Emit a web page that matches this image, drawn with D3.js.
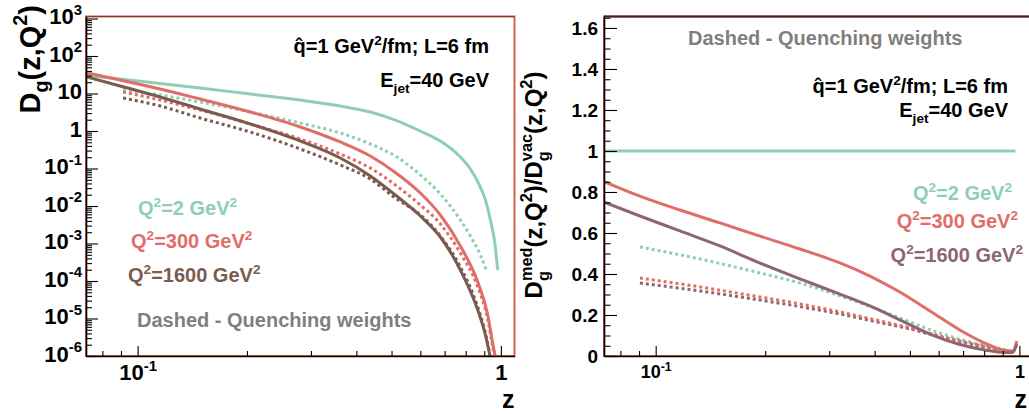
<!DOCTYPE html>
<html>
<head>
<meta charset="utf-8">
<script src="https://cdnjs.cloudflare.com/ajax/libs/d3/7.8.5/d3.min.js"></script>
<style>
  body { margin: 0; background: #fff; }
  svg { display: block; font-family: "Liberation Sans", Arial, Helvetica, sans-serif; font-weight: bold; }
</style>
</head>
<body>
<div id="chart"></div>
<script>

// ---- data ----
// left panel: D_g(z,Q^2), [z, value]; solid = medium evolution, dotted = quenching weights
var q2Solid = [[0.0721,30.2],[0.0895,24.4],[0.1153,18.5],[0.1486,14.0],[0.2041,9.7],[0.2804,6.71],[0.3613,4.64],[0.437,3.21],[0.5121,1.96],[0.6001,1.0],[0.6813,0.541],[0.726,0.352],[0.7734,0.203],[0.824,0.097],[0.867,0.041],[0.9065,0.0145],[0.9356,0.00424],[0.9596,0.00124],[0.98,0.000196]];
var q2Dotted = [[0.0912,12.8],[0.1153,9.12],[0.1486,5.93],[0.2041,3.21],[0.2804,1.63],[0.3613,0.885],[0.437,0.45],[0.5121,0.215],[0.6001,0.0671],[0.6813,0.0209],[0.7734,0.00424],[0.824,0.00158],[0.878,0.000493],[0.912,0.000196]];
var q300Solid = [[0.0721,35.9],[0.0895,22.9],[0.1153,13.2],[0.1486,7.13],[0.2041,3.21],[0.2804,1.28],[0.3613,0.509],[0.437,0.215],[0.5121,0.0782],[0.6001,0.0222],[0.6813,0.00575],[0.7734,0.000857],[0.8615,0.0001],[0.9181,0.0000136],[0.9535,0.00000174],[0.9719,0.00000069]];
var q300Dotted = [[0.0912,11.0],[0.1153,6.71],[0.1486,3.63],[0.2041,1.54],[0.2804,0.612],[0.3613,0.244],[0.437,0.103],[0.5121,0.0363],[0.6001,0.0106],[0.6813,0.00331],[0.7734,0.000558],[0.8615,0.0000736],[0.9181,0.0000103],[0.9535,0.00000136],[0.9656,0.00000069]];
var q1600Solid = [[0.0721,28.1],[0.0895,15.8],[0.1153,8.07],[0.1486,3.86],[0.2041,1.54],[0.2804,0.541],[0.3613,0.19],[0.437,0.0631],[0.5121,0.0196],[0.6001,0.0054],[0.6813,0.00149],[0.7734,0.000196],[0.8615,0.0000179],[0.9065,0.00000363],[0.9356,0.00000088]];
var q1600Dotted = [[0.0912,7.59],[0.1153,4.64],[0.1486,2.22],[0.2041,0.94],[0.2804,0.331],[0.3613,0.124],[0.437,0.0525],[0.5121,0.0163],[0.6001,0.0058],[0.6813,0.00158],[0.7734,0.000236],[0.8615,0.0000215],[0.9065,0.0000041],[0.9356,0.00000088]];

// right panel: D_med / D_vac, [z, ratio]
var r2Solid = [[0.0721,1.0],[0.975,1.0]];
var r2Dotted = [[0.0905,0.532],[0.1324,0.473],[0.1935,0.405],[0.2493,0.356],[0.3211,0.293],[0.4136,0.224],[0.5002,0.166],[0.6047,0.112],[0.7311,0.068],[0.8839,0.037],[0.9298,0.029]];
var r300Solid = [[0.0721,0.851],[0.0905,0.78],[0.1166,0.712],[0.1502,0.649],[0.1935,0.585],[0.2493,0.522],[0.3211,0.454],[0.3882,0.39],[0.4692,0.312],[0.5675,0.22],[0.686,0.127],[0.8034,0.063],[0.912,0.0268],[0.9592,0.0244],[0.9836,0.073]];
var r300Dotted = [[0.0905,0.38],[0.1324,0.337],[0.1935,0.288],[0.2493,0.254],[0.3211,0.215],[0.4136,0.171],[0.5002,0.137],[0.6047,0.098],[0.7311,0.063],[0.8839,0.032],[0.9298,0.024]];
var r1600Solid = [[0.0721,0.751],[0.0905,0.683],[0.1166,0.61],[0.1502,0.537],[0.19,0.459],[0.2493,0.376],[0.3211,0.302],[0.3882,0.244],[0.4692,0.176],[0.5675,0.107],[0.686,0.056],[0.8034,0.029],[0.912,0.017],[0.9592,0.017],[0.9836,0.0585]];
var r1600Dotted = [[0.0905,0.356],[0.1324,0.317],[0.1935,0.273],[0.2493,0.241],[0.3211,0.205],[0.4136,0.163],[0.5002,0.132],[0.6047,0.093],[0.7311,0.059],[0.8839,0.029],[0.9298,0.022]];

// tick values
var xMajor = [0.1, 1];
var xMinor = [0.08, 0.09, 0.2, 0.3, 0.4, 0.5, 0.6, 0.7, 0.8, 0.9];
var yLogMajor = [1e-6, 1e-5, 1e-4, 1e-3, 1e-2, 1e-1, 1, 10, 100, 1000];
var yLinMajor = [0, 0.2, 0.4, 0.6, 0.8, 1, 1.2, 1.4, 1.6];

// colours
var green = "#8ecfb4";
var red = "#e06e68";
var brownL = "#7b5b4f";
var brownR = "#8d6672";
var grey = "#7f7f7f";
var frameRed = "#d2604c";

var svgWidth = 1029;
var svgHeight = 414;

var svg = d3.select("#chart")
  .append("svg")
  .attr("width", svgWidth)
  .attr("height", svgHeight);

// text with super/subscripts made of tspans
function richText(txt, parts, size) {
  var shift = 0;
  var prev = null;
  parts.forEach(function(p) {
    var small = p.sup || p.sub;
    var target = p.sup ? -size * 0.42 : (p.sub ? size * 0.28 : 0);
    var ts = txt.append("tspan")
      .attr("font-size", small ? size * 0.68 : size)
      .text(p.t);
    // leave dy off when there is no shift so the parent's dy still applies
    if (target - shift !== 0) ts.attr("dy", target - shift);
    if (p.stack && prev) ts.attr("dx", -prev.node().getComputedTextLength());
    shift = target;
    prev = ts;
  });
  return txt;
}

function addText(parent, x, y, parts, size, color, anchor) {
  var t = parent.append("text")
    .attr("x", x)
    .attr("y", y)
    .attr("fill", color)
    .attr("text-anchor", anchor || "start");
  return richText(t, parts, size);
}

function expParts(v) {
  var e = Math.round(Math.log10(v));
  if (e === 0) return [{t: "1"}];
  if (e === 1) return [{t: "10"}];
  return [{t: "10"}, {t: String(e), sup: true}];
}

function styleAxis(g) {
  g.attr("font-family", null).attr("font-size", null);
  g.select(".domain").attr("stroke", "#000").attr("stroke-width", 1.6);
  g.selectAll(".tick line").attr("stroke", "#000").attr("stroke-width", 1.1);
}

// minor log ticks 2..9 per decade
var yLogMinor = [];
for (var e = -6; e < 3; e++) {
  for (var k = 2; k <= 9; k++) yLogMinor.push(k * Math.pow(10, e));
}
var yLinMinor = d3.range(0, 34).filter(function(i) { return i % 4 !== 0; }).map(function(i) { return i * 0.05; });

// ================= LEFT PANEL =================
var xL = d3.scaleLog().domain([0.0721, 1.09]).range([86, 514.5]);
var yL = d3.scaleLog().domain([1e-6, 1130]).range([356, 16.5]);

var left = svg.append("g");

left.append("clipPath").attr("id", "clipL")
  .append("rect")
  .attr("x", 86).attr("y", 16.5)
  .attr("width", 428.5).attr("height", 339.5);

// frame
left.append("rect")
  .attr("x", 86).attr("y", 16.5)
  .attr("width", 428.5).attr("height", 339.5)
  .attr("fill", "none")
  .attr("stroke", frameRed)
  .attr("stroke-width", 2);
left.append("line")
  .attr("x1", 86).attr("x2", 514.5)
  .attr("y1", 16.5).attr("y2", 16.5)
  .attr("stroke", "#7a3d34")
  .attr("stroke-width", 1);

var lineL = d3.line()
  .x(d => xL(d[0]))
  .y(d => yL(d[1]))
  .curve(d3.curveMonotoneX);

var leftSeries = [
  {data: q2Solid, color: green, dotted: false},
  {data: q2Dotted, color: green, dotted: true},
  {data: q300Dotted, color: red, dotted: true},
  {data: q300Solid, color: red, dotted: false},
  {data: q1600Dotted, color: brownL, dotted: true},
  {data: q1600Solid, color: brownL, dotted: false}
];

left.append("g")
  .attr("clip-path", "url(#clipL)")
  .selectAll("path")
  .data(leftSeries)
  .enter()
  .append("path")
  .attr("d", d => lineL(d.data))
  .attr("fill", "none")
  .attr("stroke", d => d.color)
  .attr("stroke-width", 3)
  .attr("stroke-dasharray", d => d.dotted ? "3,3" : null);

// y axis (log)
left.append("g")
  .attr("transform", "translate(86,0)")
  .call(d3.axisLeft(yL).tickValues(yLogMinor).tickSize(-6).tickSizeOuter(0).tickFormat(""))
  .call(styleAxis)
  .call(g => g.select(".domain").remove());

left.append("g")
  .attr("transform", "translate(86,0)")
  .call(d3.axisLeft(yL).tickValues(yLogMajor).tickSize(-12).tickSizeOuter(0).tickPadding(4).tickFormat(""))
  .call(styleAxis)
  .call(g => g.selectAll(".tick text").attr("fill", "#000").each(function(d) {
    richText(d3.select(this), expParts(d), 22);
  }));

// x axis (log)
left.append("g")
  .attr("transform", "translate(0,356)")
  .call(d3.axisBottom(xL).tickValues(xMinor).tickSize(-5).tickSizeOuter(0).tickFormat(""))
  .call(styleAxis)
  .call(g => g.select(".domain").remove());

left.append("g")
  .attr("transform", "translate(0,356)")
  .call(d3.axisBottom(xL).tickValues(xMajor).tickSize(-10).tickSizeOuter(0).tickPadding(13).tickFormat(""))
  .call(styleAxis)
  .call(g => g.selectAll(".tick text").attr("fill", "#000").each(function(d) {
    richText(d3.select(this), expParts(d), 22);
  }));

// axis titles
left.append("text")
  .attr("transform", "translate(39.5,5) rotate(-90)")
  .attr("text-anchor", "end")
  .call(t => richText(t, [{t: "D"}, {t: "g", sub: true}, {t: "(z,Q"}, {t: "2", sup: true}, {t: ")"}], 29));

addText(left, 514.5, 408, [{t: "z"}], 25, "#000", "end");

// annotations
addText(left, 489, 53, [{t: "q\u0302=1 GeV"}, {t: "2", sup: true}, {t: "/fm; L=6 fm"}], 20, "#000", "end");
addText(left, 489, 87, [{t: "E"}, {t: "jet", sub: true}, {t: "=40 GeV"}], 20, "#000", "end");
addText(left, 138, 215, [{t: "Q"}, {t: "2", sup: true}, {t: "=2 GeV"}, {t: "2", sup: true}], 20, green);
addText(left, 131, 248, [{t: "Q"}, {t: "2", sup: true}, {t: "=300 GeV"}, {t: "2", sup: true}], 20, red);
addText(left, 128, 282, [{t: "Q"}, {t: "2", sup: true}, {t: "=1600 GeV"}, {t: "2", sup: true}], 20, brownL);
addText(left, 137, 327, [{t: "Dashed - Quenching weights"}], 20, grey);

// ================= RIGHT PANEL =================
var xR = d3.scaleLog().domain([0.0721, 1.09]).range([604, 1033]);
var yR = d3.scaleLinear().domain([0, 1.656]).range([356, 16.5]);

var right = svg.append("g");

right.append("clipPath").attr("id", "clipR")
  .append("rect")
  .attr("x", 604).attr("y", 16.5)
  .attr("width", 429).attr("height", 339.5);

right.append("rect")
  .attr("x", 604).attr("y", 16.5)
  .attr("width", 429).attr("height", 339.5)
  .attr("fill", "none")
  .attr("stroke", frameRed)
  .attr("stroke-width", 2);
right.append("line")
  .attr("x1", 604).attr("x2", 1033)
  .attr("y1", 16.5).attr("y2", 16.5)
  .attr("stroke", "#3d2522")
  .attr("stroke-width", 2);

var lineR = d3.line()
  .x(d => xR(d[0]))
  .y(d => yR(d[1]))
  .curve(d3.curveMonotoneX);

var rightSeries = [
  {data: r2Solid, color: green, dotted: false},
  {data: r2Dotted, color: green, dotted: true},
  {data: r1600Dotted, color: brownR, dotted: true},
  {data: r300Dotted, color: red, dotted: true},
  {data: r300Solid, color: red, dotted: false},
  {data: r1600Solid, color: brownR, dotted: false}
];

right.append("g")
  .attr("clip-path", "url(#clipR)")
  .selectAll("path")
  .data(rightSeries)
  .enter()
  .append("path")
  .attr("d", d => lineR(d.data))
  .attr("fill", "none")
  .attr("stroke", d => d.color)
  .attr("stroke-width", 3)
  .attr("stroke-dasharray", d => d.dotted ? "3,3" : null);

// y axis (linear)
right.append("g")
  .attr("transform", "translate(604,0)")
  .call(d3.axisLeft(yR).tickValues(yLinMinor).tickSize(-6.5).tickSizeOuter(0).tickFormat(""))
  .call(styleAxis)
  .call(g => g.select(".domain").remove());

right.append("g")
  .attr("transform", "translate(604,0)")
  .call(d3.axisLeft(yR).tickValues(yLinMajor).tickSize(-13).tickSizeOuter(0).tickPadding(6).tickFormat(d => String(d)))
  .call(styleAxis)
  .call(g => g.selectAll(".tick text").attr("fill", "#000").attr("font-size", 19));

// x axis (log)
right.append("g")
  .attr("transform", "translate(0,356)")
  .call(d3.axisBottom(xR).tickValues(xMinor).tickSize(-5).tickSizeOuter(0).tickFormat(""))
  .call(styleAxis)
  .call(g => g.select(".domain").remove());

right.append("g")
  .attr("transform", "translate(0,356)")
  .call(d3.axisBottom(xR).tickValues(xMajor).tickSize(-10).tickSizeOuter(0).tickPadding(11).tickFormat(""))
  .call(styleAxis)
  .call(g => g.selectAll(".tick text").attr("fill", "#000").each(function(d) {
    richText(d3.select(this), expParts(d), 18);
  }));

// axis titles
right.append("text")
  .attr("transform", "translate(542,185) rotate(-90)")
  .attr("text-anchor", "middle")
  .call(t => richText(t, [
    {t: "D"}, {t: "g", sub: true}, {t: "med", sup: true, stack: true},
    {t: "(z,Q"}, {t: "2", sup: true}, {t: ")/D"},
    {t: "g", sub: true}, {t: "vac", sup: true, stack: true},
    {t: "(z,Q"}, {t: "2", sup: true}, {t: ")"}
  ], 24));

addText(right, 1027, 408, [{t: "z"}], 25, "#000", "end");

// annotations
addText(right, 688, 45, [{t: "Dashed - Quenching weights"}], 20, grey);
addText(right, 1008, 93, [{t: "q\u0302=1 GeV"}, {t: "2", sup: true}, {t: "/fm; L=6 fm"}], 20, "#000", "end");
addText(right, 1008, 117, [{t: "E"}, {t: "jet", sub: true}, {t: "=40 GeV"}], 20, "#000", "end");
addText(right, 1012, 200, [{t: "Q"}, {t: "2", sup: true}, {t: "=2 GeV"}, {t: "2", sup: true}], 20, green, "end");
addText(right, 1018, 228, [{t: "Q"}, {t: "2", sup: true}, {t: "=300 GeV"}, {t: "2", sup: true}], 20, red, "end");
addText(right, 1023, 262, [{t: "Q"}, {t: "2", sup: true}, {t: "=1600 GeV"}, {t: "2", sup: true}], 20, brownR, "end");

</script>
</body>
</html>
